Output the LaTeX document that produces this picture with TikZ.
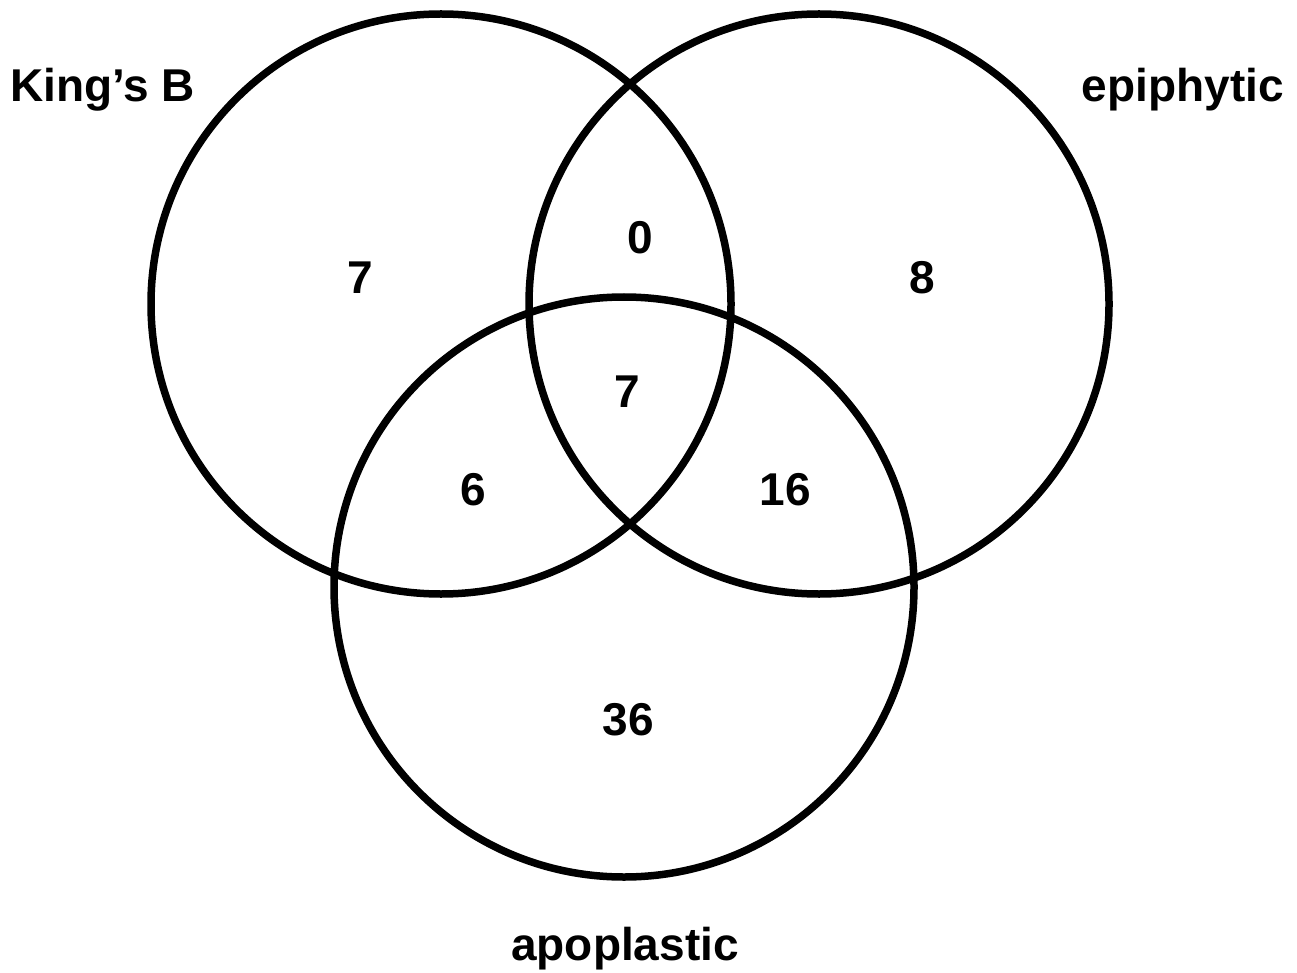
\documentclass[tikz,border=0pt]{standalone}
\usepackage{fontspec}
\setmainfont{Liberation Sans}
\begin{document}
\begin{tikzpicture}[x=1pt,y=-1pt,
  venn/.style={draw=black,line width=7.5pt},
  lbl/.style={font=\fontsize{46}{50}\selectfont\bfseries,inner sep=0pt,anchor=base}]
\useasboundingbox (0,0) rectangle (1297,973);
\draw[venn] (441,304) circle[radius=290];
\draw[venn] (819,304) circle[radius=290];
\draw[venn] (624,587) circle[radius=290];
\node[lbl,anchor=base west] (kb) at (10,102) {King’s B};
\node[lbl,anchor=base east] (ep) at (1284,102) {epiphytic};
\node[lbl] (ap) at (625,960) {apoplastic};
\node[lbl] (n1) at (360,294) {7};
\node[lbl] (n2) at (640,254) {0};
\node[lbl] (n3) at (922,294) {8};
\node[lbl] (n4) at (627,407) {7};
\node[lbl] (n5) at (473,505) {6};
\node[lbl] (n6) at (785,505) {16};
\node[lbl] (n7) at (628,735) {36};
\end{tikzpicture}
\end{document}
